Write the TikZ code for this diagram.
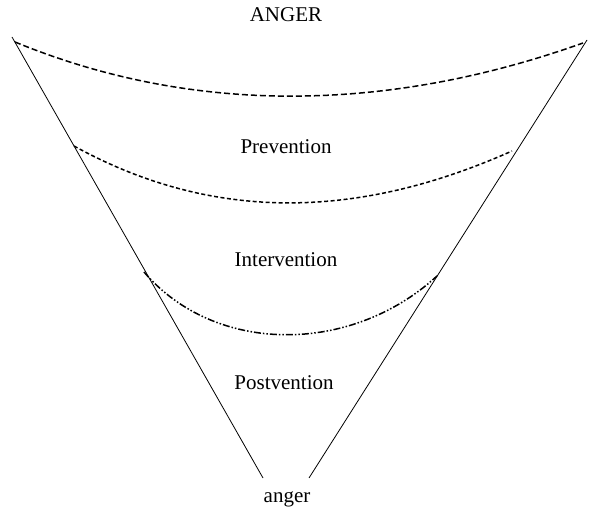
\documentclass[tikz,border=0pt]{standalone}
\usepackage{fontspec}
\setmainfont{Liberation Serif}
\begin{document}
\begin{tikzpicture}[x=1pt,y=-1pt,
  lbl/.style={font=\fontsize{21}{24}\selectfont, inner sep=0pt, anchor=base},
  side/.style={line width=0.8pt},
  dashA/.style={line width=1.5pt, dash pattern=on 6pt off 3pt},
  dashB/.style={line width=1.5pt, dash pattern=on 4pt off 2.5pt},
  dashC/.style={line width=1.5pt, dash pattern=on 7pt off 2pt on 1.5pt off 2pt on 1.5pt off 2pt}]
\useasboundingbox (0,0) rectangle (589,510);
\node[lbl] (top) at (286,22) {ANGER};
\node[lbl] (prev) at (286,154) {Prevention};
\node[lbl] (inter) at (286,267) {Intervention};
\node[lbl] (post) at (284,390) {Postvention};
\node[lbl] (bot) at (287,502) {anger};
\coordinate (LT) at (12,37);
\coordinate (LB) at (263,478);
\coordinate (RT) at (587,40);
\coordinate (RB) at (309,478);
\draw[side] (LT) -- (LB);
\draw[side] (RT) -- (RB);
\draw[dashA] (15,42) .. controls (190,114) and (384,114) .. (583,43);
\draw[dashB] (74,146) .. controls (210,221) and (355,221) .. (512,151);
\draw[dashC] (144,272) .. controls (215,355) and (351,355) .. (437,276);
\end{tikzpicture}
\end{document}
